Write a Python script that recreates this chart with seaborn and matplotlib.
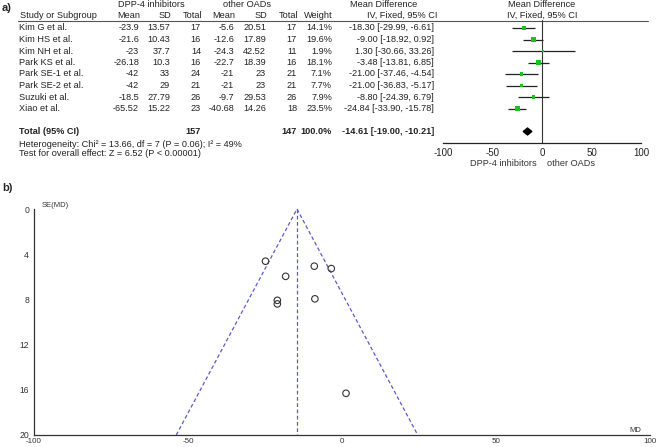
import numpy as np
import pandas as pd
import seaborn as sns
import matplotlib.pyplot as plt

studies = ["Kim G et al.", "Kim HS et al.", "Kim NH et al.", "Park KS et al.",
           "Park SE-1 et al.", "Park SE-2 et al.", "Suzuki et al.", "Xiao et al."]
dpp_mean = [-23.9, -21.6, -23, -26.18, -42, -42, -18.5, -65.52]
dpp_sd = [13.57, 10.43, 37.7, 10.3, 33, 29, 27.79, 15.22]
dpp_n = [17, 16, 14, 16, 24, 21, 26, 23]
oad_mean = [-5.6, -12.6, -24.3, -22.7, -21, -21, -9.7, -40.68]
oad_sd = [20.51, 17.89, 42.52, 18.39, 23, 23, 29.53, 14.26]
oad_n = [17, 17, 11, 16, 21, 21, 26, 18]
weight = [14.1, 19.6, 1.9, 18.1, 7.1, 7.7, 7.9, 23.5]
md = [-18.30, -9.00, 1.30, -3.48, -21.00, -21.00, -8.80, -24.84]
ci_lo = [-29.99, -18.92, -30.66, -13.81, -37.46, -36.83, -24.39, -33.90]
ci_hi = [-6.61, 0.92, 33.26, 6.85, -4.54, -5.17, 6.79, -15.78]
se_md = [5.96, 5.06, 16.31, 5.27, 8.40, 8.08, 7.95, 4.62]

total_dpp = 157
total_oad = 147
pooled_md = -14.61
pooled_lo = -19.00
pooled_hi = -10.21

sns.set_style("white")
plt.rcParams['font.family'] = ['Liberation Sans', 'DejaVu Sans']
plt.rcParams['axes.unicode_minus'] = False

fig = plt.figure(figsize=(6.58, 4.47), dpi=100)

# background axes in pixel units for the table text
bg = fig.add_axes([0, 0, 1, 1])
bg.set_xlim(0, 658)
bg.set_ylim(447, 0)
bg.axis("off")

fs = 6.6
txt = "#222222"
row_y = lambda i: 28 + 11.5 * i

bg.text(2, 8, "a)", fontsize=8, fontweight="bold", va="center")
bg.text(2, 188, "b)", fontsize=8, fontweight="bold", va="center")

# headers
bg.text(151, 4.5, "DPP-4 inhibitors", fontsize=fs, ha="center", va="center", color=txt)
bg.text(247, 4.5, "other OADs", fontsize=fs, ha="center", va="center", color=txt)
bg.text(384, 4.5, "Mean Difference", fontsize=fs, ha="center", va="center", color=txt)
bg.text(542, 4.5, "Mean Difference", fontsize=fs, ha="center", va="center", color=txt)
bg.text(20, 15, "Study or Subgroup", fontsize=fs, ha="left", va="center", color=txt)
cols = [140, 171, 202, 235, 267, 298, 333, 437]
col_names = ["Mean", "SD", "Total", "Mean", "SD", "Total", "Weight", "IV, Fixed, 95% CI"]
for x, lab in zip(cols, col_names):
    bg.text(x, 15, lab, fontsize=fs, ha="right", va="center", color=txt)
bg.text(542, 15, "IV, Fixed, 95% CI", fontsize=fs, ha="center", va="center", color=txt)
bg.plot([18, 648], [20.5, 20.5], color="#555555", lw=0.8)

# study rows
for i, name in enumerate(studies):
    y = row_y(i)
    vals = [f"{dpp_mean[i]:g}", f"{dpp_sd[i]:g}", f"{dpp_n[i]}",
            f"{oad_mean[i]:g}", f"{oad_sd[i]:g}", f"{oad_n[i]}",
            f"{weight[i]:.1f}%",
            f"{md[i]:.2f} [{ci_lo[i]:.2f}, {ci_hi[i]:.2f}]"]
    bg.text(19, y, name, fontsize=fs, ha="left", va="center", color=txt)
    for j, v in enumerate(vals):
        x = cols[j] - (3 if j == 7 else 1)
        bg.text(x, y, v, fontsize=fs, ha="right", va="center", color=txt)

yt = row_y(9)
bg.text(19, yt, "Total (95% CI)", fontsize=fs, fontweight="bold", ha="left", va="center", color=txt)
bg.text(201, yt, f"{total_dpp}", fontsize=fs, fontweight="bold", ha="right", va="center", color=txt)
bg.text(297, yt, f"{total_oad}", fontsize=fs, fontweight="bold", ha="right", va="center", color=txt)
bg.text(332, yt, "100.0%", fontsize=fs, fontweight="bold", ha="right", va="center", color=txt)
bg.text(434, yt, f"{pooled_md:.2f} [{pooled_lo:.2f}, {pooled_hi:.2f}]",
        fontsize=fs, fontweight="bold", ha="right", va="center", color=txt)
bg.text(19, 144.5, "Heterogeneity: Chi\u00b2 = 13.66, df = 7 (P = 0.06); I\u00b2 = 49%",
        fontsize=fs, ha="left", va="center", color=txt)
bg.text(19, 154, "Test for overall effect: Z = 6.52 (P < 0.00001)",
        fontsize=fs, ha="left", va="center", color=txt)
bg.text(537, 163, "DPP-4 inhibitors", fontsize=fs, ha="right", va="center", color="#333333")
bg.text(547, 163, "other OADs", fontsize=fs, ha="left", va="center", color="#333333")

# forest plot
fp = fig.add_axes([441 / 658, 1 - 143 / 447, 202 / 658, 123 / 447])
fp.patch.set_alpha(0)
rows = np.arange(len(studies))
forest = pd.DataFrame({"md": md, "row": rows, "weight": weight})
fp.hlines(rows, ci_lo, ci_hi, color="#222222", lw=0.9, zorder=2)
sns.scatterplot(data=forest, x="md", y="row", size="weight", sizes=(1.5, 16),
                marker="s", color="#1fbf1f", edgecolor="none", legend=False,
                ax=fp, zorder=3)
fp.fill([pooled_lo, pooled_md, pooled_hi, pooled_md], [9, 8.7, 9, 9.3],
        color="black", zorder=3)
fp.axvline(0, color="#333333", lw=0.8, zorder=1)
fp.set_xticks([-100, -50, 0, 50, 100])
fp.set_yticks([])
fp.set_xlabel("")
fp.set_ylabel("")
for s in ["top", "right", "left"]:
    fp.spines[s].set_visible(False)
fp.spines["bottom"].set_linewidth(0.9)
fp.spines["bottom"].set_color("#222222")
fp.spines["bottom"].set_bounds(-100, 100)
fp.tick_params(axis="x", direction="inout", length=5, width=0.8, labelsize=fs + 0.4,
               pad=1, colors="#222222")
fp.set_xlim(-102, 102)
fp.set_ylim(10.0, -0.7)

# funnel plot
fn = fig.add_axes([34 / 658, 1 - 435 / 447, 616 / 658, 226 / 447])
fn.patch.set_alpha(0)
se_max = 20
fn.plot([pooled_md - 1.96 * se_max, pooled_md, pooled_md + 1.96 * se_max],
        [se_max, 0, se_max], color="#5a5ad0", lw=0.9, ls=(0, (3, 2)))
fn.plot([pooled_md, pooled_md], [0, se_max], color="#5a5ad0", lw=0.9, ls=(0, (3, 2)))
funnel = pd.DataFrame({"md": md, "se": se_md})
sns.scatterplot(data=funnel, x="md", y="se", marker="o", s=22, facecolor="none",
                edgecolor="#333333", linewidth=0.8, ax=fn, zorder=3)
fn.set_xlim(-100, 100)
fn.set_ylim(20, 0)
fn.set_xticks([-100, -50, 0, 50, 100])
fn.set_yticks([0, 4, 8, 12, 16, 20])
fn.set_xlabel("")
fn.set_ylabel("")
for s in ["top", "right"]:
    fn.spines[s].set_visible(False)
for s in ["left", "bottom"]:
    fn.spines[s].set_linewidth(0.9)
    fn.spines[s].set_color("#333333")
fn.tick_params(direction="inout", length=5, width=0.8, labelsize=6.2, pad=1,
               colors="#333333")
fn.tick_params(axis="x", pad=0, labelsize=5.8)
fn.text(0.012, 1.0, "SE(MD)", transform=fn.transAxes, fontsize=5.5,
        ha="left", va="bottom", color="#333333")
fn.text(0.985, 0.005, "MD", transform=fn.transAxes, fontsize=5.5,
        ha="right", va="bottom", color="#333333")

fig.savefig("out.png", dpi=100)
